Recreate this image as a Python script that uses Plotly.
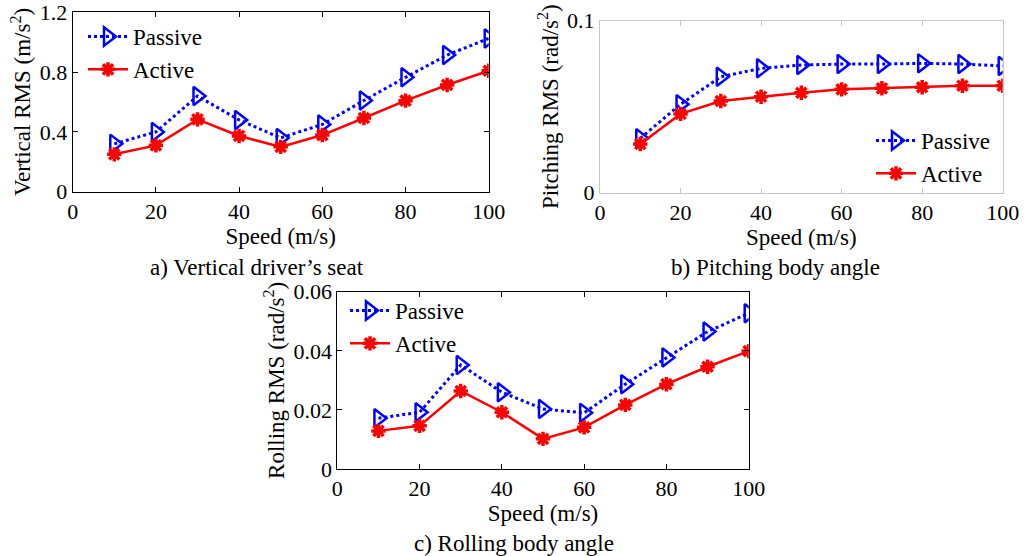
import plotly.graph_objects as go

speed = [10, 20, 30, 40, 50, 60, 70, 80, 90, 100]

vert_passive = [0.32, 0.40, 0.64, 0.48, 0.36, 0.45, 0.61, 0.765, 0.914, 1.025]
vert_active = [0.25, 0.31, 0.484, 0.373, 0.30, 0.379, 0.493, 0.609, 0.714, 0.809]

pitch_passive = [0.0316, 0.0514, 0.0674, 0.0723, 0.0742, 0.0748, 0.0748, 0.0752, 0.0748, 0.0737]
pitch_active = [0.0283, 0.0458, 0.0533, 0.0558, 0.0581, 0.0601, 0.0607, 0.0613, 0.0622, 0.0622]

roll_passive = [0.0172, 0.0192, 0.0352, 0.0260, 0.0203, 0.0190, 0.0287, 0.0377, 0.0465, 0.0527]
roll_active = [0.0129, 0.0146, 0.0264, 0.0192, 0.0102, 0.0141, 0.0217, 0.0287, 0.0346, 0.0399]

x_ticks = [0, 20, 40, 60, 80, 100]
vert_ticks = [0, 0.4, 0.8, 1.2]
pitch_ticks = [0, 0.1]
roll_ticks = [0, 0.02, 0.04, 0.06]

captions = ["a) Vertical driver’s seat", "b) Pitching body angle", "c) Rolling body angle"]

W, H = 1029, 556
FONT = "Liberation Serif, Times New Roman, serif"
BLUE = "#0000FF"
RED = "#FF0000"

def px(v):
    return v / W

def py(v):
    return 1 - v / H

fig = go.Figure()

panels = [
    dict(xa="x", ya="y", leg="legend", p=vert_passive, a=vert_active),
    dict(xa="x2", ya="y2", leg="legend2", p=pitch_passive, a=pitch_active),
    dict(xa="x3", ya="y3", leg="legend3", p=roll_passive, a=roll_active),
]
for pn in panels:
    fig.add_trace(go.Scatter(
        x=speed, y=pn["p"], name="Passive", mode="lines+markers",
        xaxis=pn["xa"], yaxis=pn["ya"], legend=pn["leg"],
        line=dict(color=BLUE, width=3, dash="dot"),
        marker=dict(symbol="triangle-right-open", size=16, color=BLUE,
                    line=dict(color=BLUE, width=2.5)),
    ))
    fig.add_trace(go.Scatter(
        x=speed, y=pn["a"], name="Active", mode="lines+markers",
        xaxis=pn["xa"], yaxis=pn["ya"], legend=pn["leg"],
        line=dict(color=RED, width=2.5),
        marker=dict(symbol="asterisk-open", size=12, color=RED,
                    line=dict(color=RED, width=3.5)),
    ))

tickfont = dict(family=FONT, size=22, color="black")
titlefont = dict(family=FONT, size=23, color="black")

def xaxis(domain, anchor, color):
    return dict(domain=domain, anchor=anchor, range=[0, 100], tickvals=x_ticks,
                ticks="inside", ticklen=5, tickcolor=color, showline=True,
                linecolor=color, linewidth=1, mirror="allticks", showgrid=False,
                zeroline=False, tickfont=tickfont, automargin=False,
                title=dict(text="Speed (m/s)", font=titlefont, standoff=4))

def yaxis(domain, anchor, rng, ticks, title, color):
    return dict(domain=domain, anchor=anchor, range=rng, tickvals=ticks,
                ticks="inside", ticklen=5, tickcolor=color, showline=True,
                linecolor=color, linewidth=1, mirror="allticks", showgrid=False,
                zeroline=False, tickfont=tickfont, automargin=False,
                title=dict(text=title, font=titlefont, standoff=2))

legfont = dict(family=FONT, size=23, color="black")

fig.update_layout(
    width=W, height=H,
    margin=dict(l=0, r=0, t=0, b=0, autoexpand=False),
    paper_bgcolor="white", plot_bgcolor="white",
    font=dict(family=FONT, size=22, color="black"),
    xaxis=xaxis([px(72.7), px(488.7)], "y", "black"),
    yaxis=yaxis([py(191.7), py(12.3)], "x", [0, 1.2], vert_ticks,
                "Vertical RMS (m/s<sup>2</sup>)", "black"),
    xaxis2=xaxis([px(600), px(1002.7)], "y2", "#c8c8c8"),
    yaxis2=yaxis([py(192.7), py(20.7)], "x2", [0, 0.1], pitch_ticks,
                 "Pitching RMS (rad/s<sup>2</sup>)", "#c8c8c8"),
    xaxis3=xaxis([px(337.3), px(748.7)], "y3", "black"),
    yaxis3=yaxis([py(469), py(291.7)], "x3", [0, 0.06], roll_ticks,
                 "Rolling RMS (rad/s<sup>2</sup>)", "black"),
    legend=dict(x=px(83), y=py(15), xanchor="left", yanchor="top",
                bgcolor="rgba(0,0,0,0)", font=legfont, itemwidth=40, tracegroupgap=0),
    legend2=dict(x=px(871), y=py(119), xanchor="left", yanchor="top",
                 bgcolor="rgba(0,0,0,0)", font=legfont, itemwidth=40, tracegroupgap=0),
    legend3=dict(x=px(345), y=py(289), xanchor="left", yanchor="top",
                 bgcolor="rgba(0,0,0,0)", font=legfont, itemwidth=40, tracegroupgap=0),
    showlegend=True,
)

cap_pos = [(257, 267), (775, 267), (514, 543)]
for text, (cx, cy) in zip(captions, cap_pos):
    fig.add_annotation(text=text, x=px(cx), y=py(cy), xref="paper", yref="paper",
                       showarrow=False, xanchor="center", yanchor="middle",
                       font=dict(family=FONT, size=23, color="black"))

# remove the default 8px page margin so the figure fills the window exactly
fig.write_html("out.html", config={"displayModeBar": False},
               post_script="document.body.style.margin='0';document.body.style.overflow='hidden';")
